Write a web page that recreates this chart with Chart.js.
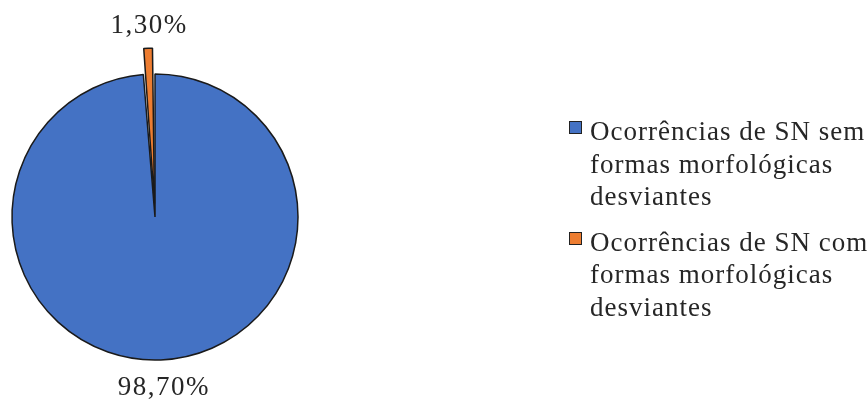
<!DOCTYPE html>
<html>
<head>
<meta charset="utf-8">
<script src="https://cdn.jsdelivr.net/npm/chart.js@4"></script>
<style>
    html, body { margin: 0; padding: 0; background: #fff; }
    #wrap { position: relative; width: 868px; height: 403px; overflow: hidden; }
    #pieChart { position: absolute; left: 0; top: 0; }
    #legend { position: absolute; left: 569px; top: 115px; font-family: 'Liberation Serif', serif;
              font-size: 27px; line-height: 32.5px; color: #262626; letter-spacing: 1px; white-space: nowrap; }
    .item { position: relative; padding-left: 21px; margin-bottom: 13px; }
    .box { position: absolute; left: 0; top: 6px; width: 11px; height: 11px; border: 1px solid #222; }
</style>
</head>
<body>
<div id="wrap">
    <canvas id="pieChart" width="868" height="403"></canvas>
    <div id="legend"></div>
</div>
<script>
// Categories (legend text, one array of lines per slice)
const categories = [
    ['Ocorrências de SN sem', 'formas morfológicas', 'desviantes'],
    ['Ocorrências de SN com', 'formas morfológicas', 'desviantes']
];
// Share of occurrences, in percent
const values = [98.7, 1.3];
const valueLabels = ['98,70%', '1,30%'];
const colors = ['#4472C4', '#ED7D31'];

document.addEventListener("DOMContentLoaded", function() {
    // Build the legend from the same arrays
    const legend = document.getElementById('legend');
    categories.forEach((lines, i) => {
        const item = document.createElement('div');
        item.className = 'item';
        item.innerHTML = '<span class="box" style="background:' + colors[i] + '"></span>' + lines.join('<br>');
        legend.appendChild(item);
    });

    // Percent labels outside each slice
    const outsideLabels = {
        id: 'outsideLabels',
        afterDatasetsDraw(chart) {
            const ctx = chart.ctx;
            const meta = chart.getDatasetMeta(0);
            ctx.save();
            ctx.font = '27px "Liberation Serif", serif';
            ctx.letterSpacing = '1.5px';
            ctx.fillStyle = '#262626';
            ctx.textAlign = 'center';
            ctx.textBaseline = 'middle';
            meta.data.forEach((arc, i) => {
                const p = arc.getProps(['x', 'y', 'startAngle', 'endAngle', 'outerRadius', 'circumference'], true);
                const mid = (p.startAngle + p.endAngle) / 2;
                const off = (arc.options.offset || 0) / 4;
                const fix = 1 - Math.sin(Math.min(Math.PI, p.circumference));
                const dist = p.outerRadius + off * (1 + fix) + 25;
                ctx.fillText(valueLabels[i], p.x + Math.cos(mid) * dist + 2, p.y + Math.sin(mid) * dist + 3);
            });
            ctx.restore();
        }
    };

    const ctx = document.getElementById('pieChart').getContext('2d');
    new Chart(ctx, {
        type: 'pie',
        data: {
            labels: categories.map(c => c.join(' ')),
            datasets: [{
                data: values,
                backgroundColor: colors,
                borderColor: '#1a1a1a',
                borderWidth: 1.5,
                offset: [0, 54]
            }]
        },
        options: {
            responsive: false,
            animation: false,
            radius: 143,
            layout: { padding: { left: 0, right: 558, top: 31, bottom: 0 } },
            plugins: {
                legend: { display: false },
                tooltip: { enabled: false }
            }
        },
        plugins: [outsideLabels]
    });
});
</script>
</body>
</html>
